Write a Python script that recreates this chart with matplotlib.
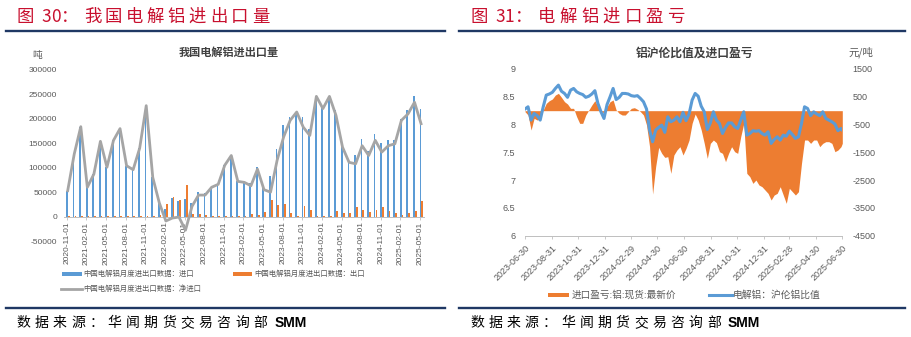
import matplotlib
matplotlib.use('Agg')
import matplotlib.pyplot as plt
from matplotlib.lines import Line2D
from matplotlib.patches import Rectangle
from matplotlib import font_manager
import numpy as np
import pandas as pd

plt.rcParams['font.family'] = ['Noto Sans CJK SC', 'DejaVu Sans']

# ---------------- data: left chart (monthly, tonnes) ----------------
months = pd.date_range('2020-11-01', '2025-05-01', freq='MS')
import_t = [53300, 128200, 184300, 60300, 87200, 154300, 101300, 156200, 180300, 104300,
            96300, 140200, 227300, 80300, 32000, 16000, 38000, 32000, 36000, 27000,
            50000, 48000, 61000, 66500, 106000, 125500, 72500, 71500, 68000, 101000,
            65000, 83000, 138000, 188000, 204000, 214500, 204000, 180000, 246500, 221500,
            246500, 218000, 149000, 118000, 127000, 159000, 135000, 170000, 151000, 157000,
            157000, 200000, 218000, 246000, 221000]
export_t = [300, 200, 300, 300, 200, 300, 300, 200, 300, 300,
            300, 200, 300, 300, 4000, 25000, 41000, 33000, 64000, 6000,
            6000, 4000, 1000, 500, 1000, 500, 500, 1500, 5000, 4000,
            10000, 33000, 23000, 25000, 7000, 500, 21000, 14000, 500, 500,
            500, 11000, 7000, 7000, 19000, 14000, 10000, 14000, 19000, 12000,
            8000, 3000, 8000, 12000, 31000]
net_import_t = [53000, 128000, 184000, 60000, 87000, 154000, 101000, 156000, 180000, 104000,
                96000, 140000, 227000, 80000, 28000, -9000, -3000, -1000, -28000, 21000,
                44000, 44000, 60000, 66000, 105000, 125000, 72000, 70000, 63000, 97000,
                55000, 50000, 115000, 163000, 197000, 214000, 183000, 166000, 246000, 221000,
                246000, 207000, 142000, 111000, 108000, 145000, 125000, 156000, 132000, 145000,
                149000, 197000, 210000, 234000, 190000]
left_xtick_labels = ['2020-11-01', '2021-02-01', '2021-05-01', '2021-08-01', '2021-11-01',
                     '2022-02-01', '2022-05-01', '2022-08-01', '2022-11-01', '2023-02-01',
                     '2023-05-01', '2023-08-01', '2023-11-01', '2024-02-01', '2024-05-01',
                     '2024-08-01', '2024-11-01', '2025-02-01', '2025-05-01']
left_ytick_values = [-50000, 0, 50000, 100000, 150000, 200000, 250000, 300000]
left_ytick_labels = ['-50000', '0', '50000', '100000', '150000', '200000', '250000', '300000']

# ---------------- data: right chart (weekly readings) ----------------
ratio_dates = list(pd.date_range('2023-06-30', periods=105, freq='7D')) + [pd.Timestamp('2025-06-30')]
shfe_lme_ratio = [8.28, 8.32, 8.08, 8.20, 8.16, 8.08, 8.32, 8.53, 8.55, 8.58,
                  8.65, 8.71, 8.60, 8.56, 8.49, 8.62, 8.65, 8.59, 8.56, 8.54,
                  8.49, 8.51, 8.55, 8.61, 8.38, 8.23, 8.11, 8.36, 8.50, 8.65,
                  8.45, 8.49, 8.56, 8.56, 8.55, 8.52, 8.51, 8.52, 8.47, 8.41,
                  8.28, 7.90, 7.69, 7.90, 7.95, 7.99, 7.86, 8.14, 8.05, 8.08,
                  8.14, 8.05, 8.22, 8.07, 8.19, 8.44, 8.56, 8.51, 8.33, 8.23,
                  7.91, 8.03, 8.23, 8.08, 8.02, 7.84, 7.95, 8.03, 8.03, 7.96,
                  7.93, 8.08, 8.23, 7.81, 7.84, 7.89, 7.88, 7.89, 7.84, 7.81,
                  7.87, 7.66, 7.73, 7.78, 7.72, 7.81, 7.79, 7.88, 7.82, 7.75,
                  7.78, 8.02, 8.32, 8.29, 8.16, 8.23, 8.19, 8.16, 8.23, 8.11,
                  8.08, 8.05, 8.01, 7.89, 7.93, 7.90]
import_profit = [-36, -156, -696, -276, -336, -276, 24, 264, 360, 420,
                 564, 624, 480, 324, 240, 84, 84, -216, -456, -456,
                 -156, 24, 204, 360, 144, -36, -72, 144, 324, 384,
                 24, -96, -156, -156, -36, 84, 108, 48, -36, -156,
                 -516, -1296, -3000, -2016, -1320, -1536, -1680, -1656, -2256, -1596,
                 -1416, -1296, -1596, -1356, -1056, -456, -120, -336, -696, -1176,
                 -1716, -1176, -1056, -1152, -1476, -1536, -1836, -1536, -1296, -1476,
                 -1536, -936, -456, -2256, -2376, -2616, -2496, -2676, -2736, -2856,
                 -2976, -3216, -3036, -2976, -2736, -3036, -3336, -2796, -2916, -3036,
                 -2916, -1896, -1056, -1056, -1176, -1056, -1056, -1296, -1176, -1116,
                 -1116, -1176, -1476, -1416, -1296, -1176]
right_xtick_labels = ['2023-06-30', '2023-08-31', '2023-10-31', '2023-12-31', '2024-02-29',
                      '2024-04-30', '2024-06-30', '2024-08-31', '2024-10-31', '2024-12-31',
                      '2025-02-28', '2025-04-30', '2025-06-30']
ratio_ticks = [6, 6.5, 7, 7.5, 8, 8.5, 9]
ratio_tick_labels = ['6', '6.5', '7', '7.5', '8', '8.5', '9']
profit_ticks = [-4500, -3500, -2500, -1500, -500, 500, 1500]
profit_tick_labels = ['-4500', '-3500', '-2500', '-1500', '-500', '500', '1500']

# ---------------- styling ----------------
W, H = 911, 337
BLUE = '#5B9BD5'
ORANGE = '#ED7D31'
GRAY = '#A5A5A5'
TXT = '#595959'
AXC = '#BFBFBF'
NAVY = '#1F3864'
RED = '#C8102E'
NUMFONT = 'Liberation Sans'

try:
    font_manager.findfont('Liberation Sans Narrow', fallback_to_default=False)
    SMMFONT = 'Liberation Sans Narrow'
except Exception:
    SMMFONT = 'Liberation Sans'


def fx(px):
    return px / W


def fy(py):
    return 1 - py / H


fig = plt.figure(figsize=(W / 100, H / 100), dpi=100)
fig.patch.set_facecolor('white')

# ---------------- headers / footers ----------------
def put_chars(chars, centers, y, size, color, fam=None):
    for c, xc in zip(chars, centers):
        kw = {}
        if fam is not None:
            kw['family'] = fam
        fig.text(fx(xc), fy(y), c, ha='center', va='center', fontsize=size, color=color, **kw)


for off, num in ((0, '30'), (453.7, '31')):
    put_chars(['图', num[0], num[1], '：'], [25.5 + off, 46.5 + off, 56 + off, 69.5 + off], 17, 12.5, RED)
fig_title_l = '我国电解铝进出口量'
put_chars(list(fig_title_l), [92.5 + 21.0 * j for j in range(len(fig_title_l))], 17, 12.5, RED)
fig_title_r = '电解铝进口盈亏'
put_chars(list(fig_title_r), [547.0 + 21.5 * j for j in range(len(fig_title_r))], 17, 12.5, RED)

source = '数据来源：华闻期货交易咨询部'
for off in (0, 453.7):
    put_chars(list(source), [23.5 + off + 18.2 * j for j in range(len(source))], 322.7, 10, 'black')
    fig.text(fx(290.5 + off), fy(322.7), 'SMM', ha='center', va='center', fontsize=10,
             color='black', family=SMMFONT, fontweight='bold')

for (x0, x1), yl in (((6, 445), 31.3), ((459, 905), 31.3), ((6, 445), 307.5), ((459, 905), 308.3)):
    fig.add_artist(Line2D([fx(x0), fx(x1)], [fy(yl), fy(yl)], transform=fig.transFigure,
                          color=NAVY, lw=1.7))

# ---------------- left chart ----------------
ax = fig.add_axes([fx(64.1), fy(241), fx(424) - fx(64.1), fy(70) - fy(241)])
x = np.arange(len(months))
ax.bar(x + 0.05, import_t, width=0.27, color=BLUE, zorder=2)
ax.bar(x + 0.33, export_t, width=0.27, color=ORANGE, zorder=2)
ax.plot(x + 0.15, net_import_t, color=GRAY, lw=2.0, zorder=3, solid_joinstyle='round')
ax.set_xlim(-0.4, 54.6)
ax.set_ylim(-50000, 300000)
for s in ('left', 'right', 'top'):
    ax.spines[s].set_visible(False)
ax.spines['bottom'].set_position(('data', 0))
ax.spines['bottom'].set_color(AXC)
ax.spines['bottom'].set_linewidth(0.7)
ax.set_xticks(np.arange(0, 55, 3))
ax.set_xticklabels(left_xtick_labels, rotation=90, fontsize=6, color=TXT, family=NUMFONT)
ax.tick_params(axis='x', direction='out', length=2.5, width=0.6, color=AXC, pad=1)
ax.set_yticks(left_ytick_values)
ax.set_yticklabels(left_ytick_labels, fontsize=6, color=TXT, family=NUMFONT)
ax.tick_params(axis='y', length=0, pad=5)
ax.patch.set_alpha(0)

fig.text(fx(229), fy(52.7), '我国电解铝进出口量', ha='center', va='center', fontsize=8,
         color='#404040', fontweight='bold')
fig.text(fx(37.5), fy(55), '吨', ha='center', va='center', fontsize=7, color=TXT)

# left legend
fig.add_artist(Rectangle((fx(61.7), fy(275.8)), fx(81.7) - fx(61.7), fy(272.2) - fy(275.8),
                         transform=fig.transFigure, color=BLUE, lw=0))
fig.text(fx(83), fy(274), '中国电解铝月度进出口数据：进口', ha='left', va='center', fontsize=5.3, color=TXT)
fig.add_artist(Rectangle((fx(232.7), fy(275.8)), fx(251.7) - fx(232.7), fy(272.2) - fy(275.8),
                         transform=fig.transFigure, color=ORANGE, lw=0))
fig.text(fx(254), fy(274), '中国电解铝月度进出口数据：出口', ha='left', va='center', fontsize=5.3, color=TXT)
fig.add_artist(Line2D([fx(60.7), fx(81.7)], [fy(289.3), fy(289.3)], transform=fig.transFigure,
                      color=GRAY, lw=2.0))
fig.text(fx(83), fy(289.3), '中国电解铝月度进出口数据：净进口', ha='left', va='center', fontsize=5.3, color=TXT)

# ---------------- right chart ----------------
ax2 = fig.add_axes([fx(525), fy(235.7), fx(842.3) - fx(525), fy(69) - fy(235.7)])
ax3 = ax2.twinx()
ax3.fill_between(ratio_dates, 0, import_profit, color=ORANGE, lw=0, zorder=1)
ax3.set_ylim(-4500, 1500)
ax2.plot(ratio_dates, shfe_lme_ratio, color=BLUE, lw=2.2, zorder=3, solid_joinstyle='round')
ax2.set_ylim(6, 9)
ax2.set_zorder(ax3.get_zorder() + 1)
ax2.patch.set_visible(False)
ax2.set_xlim(pd.Timestamp('2023-06-30'), pd.Timestamp('2025-06-30'))
for a in (ax2, ax3):
    for s in ('left', 'right', 'top'):
        a.spines[s].set_visible(False)
    a.spines['bottom'].set_color(AXC)
    a.spines['bottom'].set_linewidth(0.7)
ax3.spines['bottom'].set_visible(False)
ax2.set_xticks(pd.to_datetime(right_xtick_labels))
ax2.set_xticklabels(right_xtick_labels, rotation=45, ha='right', va='top', rotation_mode='anchor',
                    fontsize=6.5, color=TXT, family=NUMFONT)
ax2.tick_params(axis='x', direction='out', length=2.5, width=0.6, color=AXC, pad=3)
ax2.set_yticks(ratio_ticks)
ax2.set_yticklabels(ratio_tick_labels, fontsize=6.5, color=TXT, family=NUMFONT)
ax2.tick_params(axis='y', length=0, pad=7)
ax3.set_yticks(profit_ticks)
ax3.set_yticklabels(profit_tick_labels, fontsize=6.5, color=TXT, family=NUMFONT)
ax3.tick_params(axis='y', length=0, pad=7.5)
ax3.tick_params(axis='x', length=0, labelbottom=False)

fig.text(fx(694), fy(52.7), '铝沪伦比值及进口盈亏', ha='center', va='center', fontsize=8.5,
         color='#404040', fontweight='bold')
fig.text(fx(860.5), fy(52.7), '元/吨', ha='center', va='center', fontsize=7.5, color=TXT)

# right legend
fig.add_artist(Rectangle((fx(548.3), fy(297)), fx(569.3) - fx(548.3), fy(293) - fy(297),
                         transform=fig.transFigure, color=ORANGE, lw=0))
fig.text(fx(571.7), fy(295), '进口盈亏:铝:现货:最新价', ha='left', va='center', fontsize=6.9, color=TXT)
fig.add_artist(Line2D([fx(709), fx(731.7)], [fy(295), fy(295)], transform=fig.transFigure,
                      color=BLUE, lw=2.2))
fig.text(fx(733), fy(295), '电解铝：沪伦铝比值', ha='left', va='center', fontsize=7, color=TXT)

fig.savefig('out.png', dpi=100)
